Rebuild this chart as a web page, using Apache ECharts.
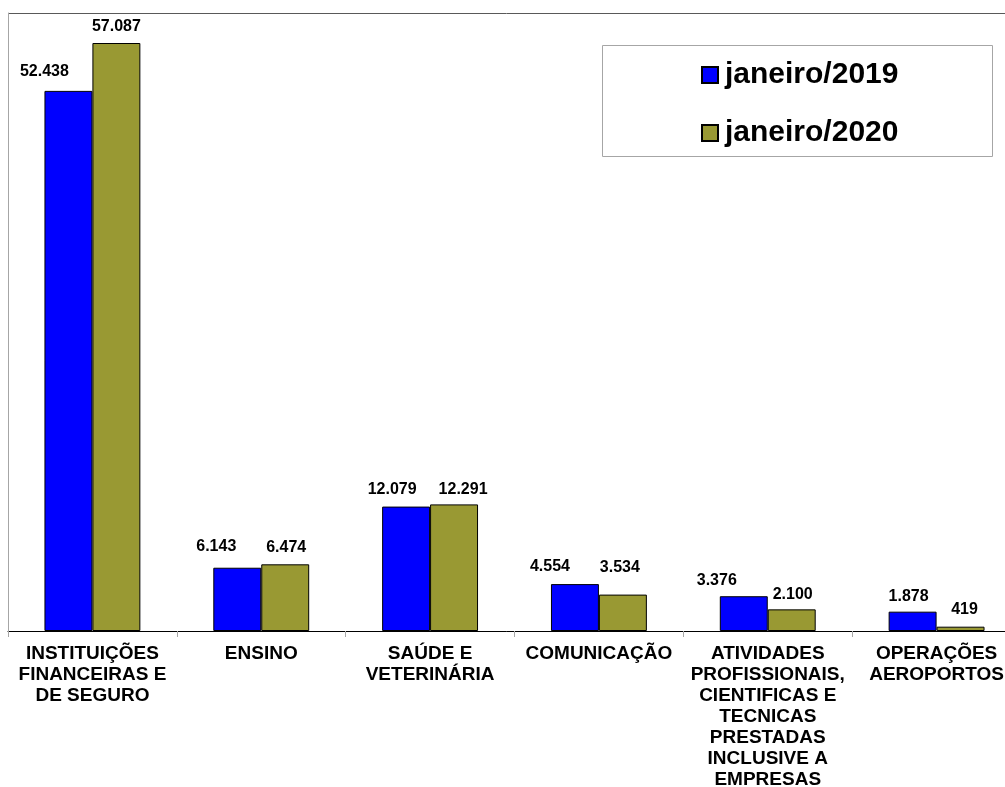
<!DOCTYPE html>
<html><head><meta charset="utf-8">
<script src="https://cdn.jsdelivr.net/npm/echarts@6/dist/echarts.min.js"></script>
<style>html,body{margin:0;padding:0;background:#fff}#c{width:1005px;height:787px}</style>
</head><body><div id="c"></div>
<script>
const categories = [
  "INSTITUIÇÕES\nFINANCEIRAS E\nDE SEGURO",
  "ENSINO",
  "SAÚDE E\nVETERINÁRIA",
  "COMUNICAÇÃO",
  "ATIVIDADES\nPROFISSIONAIS,\nCIENTIFICAS E\nTECNICAS\nPRESTADAS\nINCLUSIVE A\nEMPRESAS",
  "OPERAÇÕES\nAEROPORTOS"
];
const seriesNames = ["janeiro/2019", "janeiro/2020"];
const values2019 = [52438, 6143, 12079, 4554, 3376, 1878];
const values2020 = [57087, 6474, 12291, 3534, 2100, 419];
const axisMax = 60000;

// label nudges (style only)
const nudge2019 = [[-24,-3],[-21,-5],[-14,-1],[-25,-2],[-27,0],[-4,1]];
const nudge2020 = [[0,0],[1,-1],[9,1],[-3,-11],[1,1],[4,-1]];

function fmt(v){ return String(v).replace(/\B(?=(\d{3})+(?!\d))/g, "."); }
function mk(vals, nudges){
  return vals.map((v,i)=>({value:v, label:{offset:nudges[i]}}));
}
const FONT = 'Liberation Sans, Arial, sans-serif';
const labelStyle = {show:true, position:'top', distance:8, color:'#000',
  fontFamily:FONT, fontWeight:'bold', fontSize:16,
  formatter:p=>fmt(p.value)};

const chart = echarts.init(document.getElementById('c'), null, {renderer:'canvas'});
chart.setOption({
  animation:false,
  backgroundColor:'#fff',
  grid:{left:8, top:13, width:1013, height:618, containLabel:false, outerBoundsMode:'none'},
  legend:{
    data:seriesNames, orient:'vertical', left:701, top:60, icon:'rect', padding:0,
    itemWidth:16, itemHeight:16, itemGap:28,
    textStyle:{fontFamily:FONT, fontWeight:'bold', fontSize:30, lineHeight:30, color:'#000', padding:[0,0,0,2]}
  },
  graphic:[
    {type:'line', shape:{x1:8,y1:13.5,x2:1005,y2:13.5}, style:{stroke:'#595959', lineWidth:1}, z:-1},
    {type:'rect', shape:{x:602.5,y:45.5,width:390,height:111}, style:{fill:'#fff', stroke:'#a6a6a6', lineWidth:1}, z:0}
  ],
  xAxis:{
    type:'category', data:categories,
    axisLine:{lineStyle:{color:'#000', width:1}},
    axisTick:{show:true, length:6, lineStyle:{color:'#a6a6a6'}},
    axisLabel:{interval:0, margin:12, color:'#000', fontFamily:FONT,
      fontWeight:'bold', fontSize:19, lineHeight:21, align:'center'}
  },
  yAxis:{
    type:'value', min:0, max:axisMax,
    axisLine:{show:true, lineStyle:{color:'#a6a6a6'}},
    axisTick:{show:false}, axisLabel:{show:false}, splitLine:{show:false}
  },
  series:[
    {name:seriesNames[0], type:'bar', data:mk(values2019,nudge2019), barWidth:'28.4%', barGap:'0%',
      itemStyle:{color:'#0000ff', borderColor:'#000', borderWidth:1}, label:labelStyle},
    {name:seriesNames[1], type:'bar', data:mk(values2020,nudge2020), barWidth:'28.4%', barGap:'0%',
      itemStyle:{color:'#999933', borderColor:'#000', borderWidth:1}, label:labelStyle}
  ]
});
</script></body></html>
